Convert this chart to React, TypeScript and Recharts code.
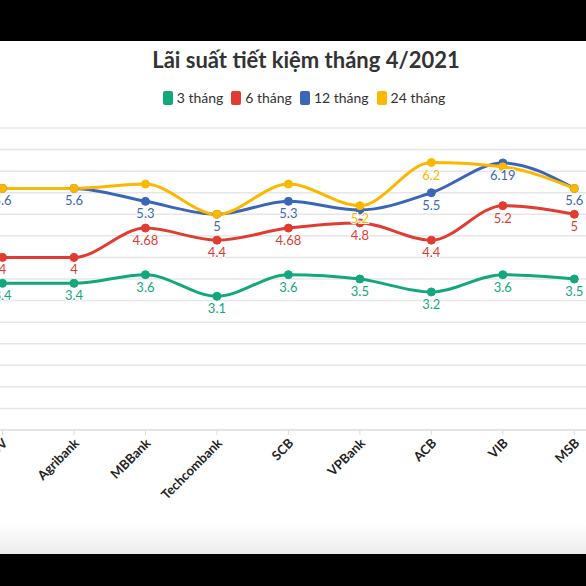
import { LineChart, Line, XAxis, YAxis, CartesianGrid, LabelList } from 'recharts'

const banks = ['BIDV', 'Agribank', 'MBBank', 'Techcombank', 'SCB', 'VPBank', 'ACB', 'VIB', 'MSB']
const rate3 = [3.4, 3.4, 3.6, 3.1, 3.6, 3.5, 3.2, 3.6, 3.5]
const rate6 = [4, 4, 4.68, 4.4, 4.68, 4.8, 4.4, 5.2, 5]
const rate12 = [5.6, 5.6, 5.3, 5, 5.3, 5.1, 5.5, 6.19, 5.6]
const rate24 = [5.6, 5.6, 5.7, 5, 5.7, 5.2, 6.2, 6.1, 5.6]
const yTicks = [0, 0.5, 1, 1.5, 2, 2.5, 3, 3.5, 4, 4.5, 5, 5.5, 6, 6.5, 7]

// value labels the source hides because they collide with another one
const hidden12 = ['VPBank']
const hidden24 = ['BIDV', 'Agribank', 'MBBank', 'Techcombank', 'SCB', 'VIB', 'MSB']

const data = banks.map((bank, i) => ({
  bank,
  m3: rate3[i],
  m6: rate6[i],
  m12: rate12[i],
  m24: rate24[i],
}))

const series = [
  { key: 'm3', name: '3 tháng', color: '#12a87b', hidden: [] as string[] },
  { key: 'm6', name: '6 tháng', color: '#e03c31', hidden: [] as string[] },
  { key: 'm12', name: '12 tháng', color: '#3a66b7', hidden: hidden12 },
  { key: 'm24', name: '24 tháng', color: '#fbb800', hidden: hidden24 },
]

const font = 'Lato, "Noto Sans", sans-serif'

function BankTick(props: any) {
  const { x, y, payload } = props
  return (
    <text
      transform={`translate(${x + 6},${y + 7}) rotate(-45)`}
      textAnchor="end"
      fontSize={13}
      fontWeight={700}
      fill="#222"
      fontFamily={font}
    >
      {payload.value}
    </text>
  )
}

function makeLabel(color: string, hidden: string[]) {
  return (props: any) => {
    const { x, y, value, index } = props
    if (hidden.includes(banks[index])) return null
    return (
      <text
        x={x}
        y={y + 17}
        textAnchor="middle"
        fontSize={13}
        fill={color}
        fontFamily={font}
        stroke="#fff"
        strokeWidth={2}
        paintOrder="stroke"
      >
        {value}
      </text>
    )
  }
}

export default function App() {
  return (
    <div
      style={{
        position: 'fixed',
        left: 0,
        top: 0,
        width: 586,
        height: 586,
        background: '#000',
        overflow: 'hidden',
        fontFamily: font,
      }}
    >
      <div
        style={{
          position: 'absolute',
          left: 0,
          top: 41,
          width: 586,
          height: 513,
          background: 'linear-gradient(to bottom, #fff 0%, #fff 94%, #ececec 100%)',
        }}
      >
        <div
          style={{
            position: 'absolute',
            top: 5,
            left: 26,
            width: 560,
            textAlign: 'center',
            fontSize: 22,
            fontWeight: 700,
            color: '#333',
          }}
        >
          Lãi suất tiết kiệm tháng 4/2021
        </div>
        <div
          style={{
            position: 'absolute',
            top: 48,
            left: 22,
            width: 564,
            display: 'flex',
            justifyContent: 'center',
            gap: 8,
            fontSize: 14,
            color: '#333',
          }}
        >
          {series.map((s) => (
            <div key={s.key} style={{ display: 'flex', alignItems: 'center', gap: 4 }}>
              <span
                style={{
                  display: 'inline-block',
                  width: 10,
                  height: 14,
                  borderRadius: 2,
                  background: s.color,
                }}
              />
              <span>{s.name}</span>
            </div>
          ))}
        </div>
        <LineChart
          width={586}
          height={513}
          data={data}
          margin={{ top: 87, right: 0, bottom: 24, left: 0 }}
        >
          <CartesianGrid vertical={false} stroke="#e6e6e6" strokeWidth={1.5} />
          <YAxis hide domain={[0, 7]} ticks={yTicks} interval={0} />
          <XAxis
            dataKey="bank"
            interval={0}
            padding={{ left: 2.5, right: 11.7 }}
            height={100}
            stroke="#dcdcdc"
            tickSize={5}
            tick={<BankTick />}
          />
          {series.map((s) => (
            <Line
              key={s.key}
              type="monotone"
              dataKey={s.key}
              name={s.name}
              stroke={s.color}
              strokeWidth={3}
              dot={{ r: 4, fill: s.color, stroke: s.color, strokeWidth: 1 }}
              isAnimationActive={false}
            >
              <LabelList dataKey={s.key} content={makeLabel(s.color, s.hidden)} />
            </Line>
          ))}
        </LineChart>
      </div>
    </div>
  )
}
